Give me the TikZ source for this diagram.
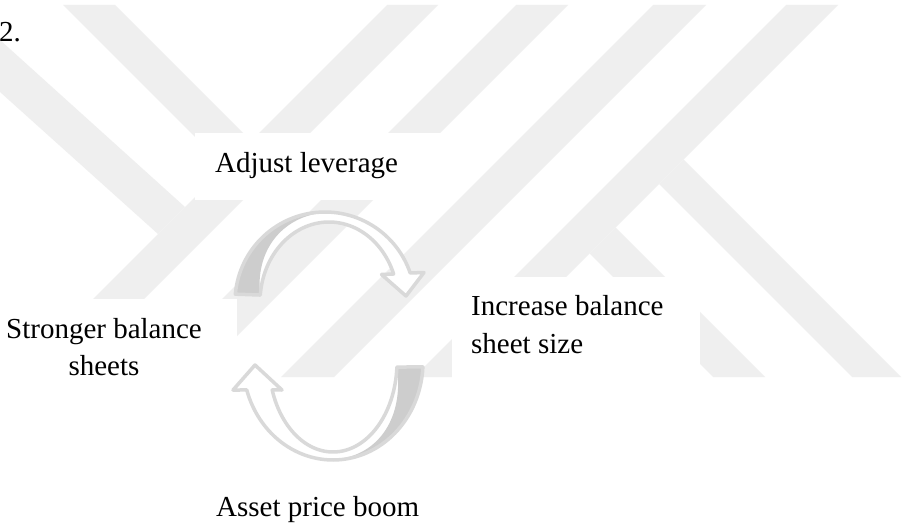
\documentclass[tikz,border=0pt]{standalone}
\usepackage{fontspec}
\setmainfont{Liberation Serif}
\definecolor{wm}{RGB}{239,239,239}
\definecolor{arrline}{RGB}{217,217,217}
\definecolor{arrdark}{RGB}{205,205,205}
\def\ribA{plot[domain=175:18.8, samples=60] ({325+90*cos(\x)},{302-90*sin(\x)}) -- (424,272.5) -- (406,296) -- (381.5,274.5) -- plot[domain=20.5:175, samples=60] ({329+69*cos(\x)},{302-80*sin(\x)}) -- cycle}
\def\ribB{plot[domain=-2.9:-163.4, samples=60] ({333+90*cos(\x)},{362-98*sin(\x)}) -- (233,390) -- (255,365) -- (282,390) -- plot[domain=-161.9:-3.2, samples=60] ({333+64*cos(\x)},{362-90*sin(\x)}) -- cycle}
\begin{document}
\begin{tikzpicture}[x=1pt,y=-1pt,
  lbl/.style={inner sep=0pt, anchor=base west, font=\fontsize{29}{35}\selectfont},
  stripe/.style={fill=wm},
  whitebox/.style={fill=white},
  ribbonfill/.style={fill=white},
  ribbonline/.style={draw=arrline, line width=3.5pt, line join=round},
  ribbonshade/.style={fill=arrdark}]
\fill[white] (0,0) rectangle (906,527);
\useasboundingbox (0,0) rectangle (906,527);
% watermark
\begin{scope}
\clip (0,5) rectangle (906,377);
\fill[stripe] (0,40) -- (185,207) -- (158,234) -- (0,92) -- cycle;
\fill[stripe] (63,5) -- (115,5) -- (251,141) -- (225,167) -- cycle;
\fill[stripe] (387,5) -- (438,5) -- (66,377) -- (15,377) -- cycle;
\fill[stripe] (516,5) -- (568,5) -- (196,377) -- (144,377) -- cycle;
\fill[stripe] (653,5) -- (706,5) -- (334,377) -- (281,377) -- cycle;
\fill[stripe] (786,5) -- (838,5) -- (466,377) -- (414,377) -- cycle;
\fill[stripe] (683.5,159.5) -- (901,377) -- (852,377) -- (659,184) -- cycle;
\fill[stripe] (615.5,227.5) -- (765,377) -- (713,377) -- (589.5,253.5) -- cycle;
\end{scope}
% white label backgrounds
\fill[whitebox] (195,133) rectangle (452,200);
\fill[whitebox] (0,299) rectangle (237,400);
\fill[whitebox] (452,277) rectangle (700,400);
% top arrow
\path[ribbonfill] \ribA;
\fill[ribbonshade] plot[domain=175:85, samples=50] ({325+90*cos(\x)},{302-90*sin(\x)}) -- plot[domain=85:175, samples=50] ({(1-(175-\x)/90)*(329+69*cos(\x)) + ((175-\x)/90)*(325+90*cos(\x))}, {(1-(175-\x)/90)*(302-80*sin(\x)) + ((175-\x)/90)*(302-90*sin(\x))}) -- cycle;
\path[ribbonline] \ribA;
% bottom arrow
\path[ribbonfill] \ribB;
\fill[ribbonshade] plot[domain=-2.9:-95, samples=50] ({333+90*cos(\x)},{362-98*sin(\x)}) -- plot[domain=-95:-2.9, samples=50] ({(1-(\x+2.9)/(-92.1))*(333+64*cos(\x)) + ((\x+2.9)/(-92.1))*(333+90*cos(\x))}, {(1-(\x+2.9)/(-92.1))*(362-90*sin(\x)) + ((\x+2.9)/(-92.1))*(362-98*sin(\x))}) -- cycle;
\path[ribbonline] \ribB;
% labels
\node[lbl] (two) at (-1,41.5) {2.};
\node[lbl] (adj) at (215,172) {Adjust leverage};
\node[lbl, anchor=base] (sb1) at (104,338) {Stronger balance};
\node[lbl, anchor=base] (sb2) at (104,375) {sheets};
\node[lbl] (inc1) at (471,315) {Increase balance};
\node[lbl] (inc2) at (471,353) {sheet size};
\node[lbl] (asset) at (216,516) {Asset price boom};
\end{tikzpicture}
\end{document}
